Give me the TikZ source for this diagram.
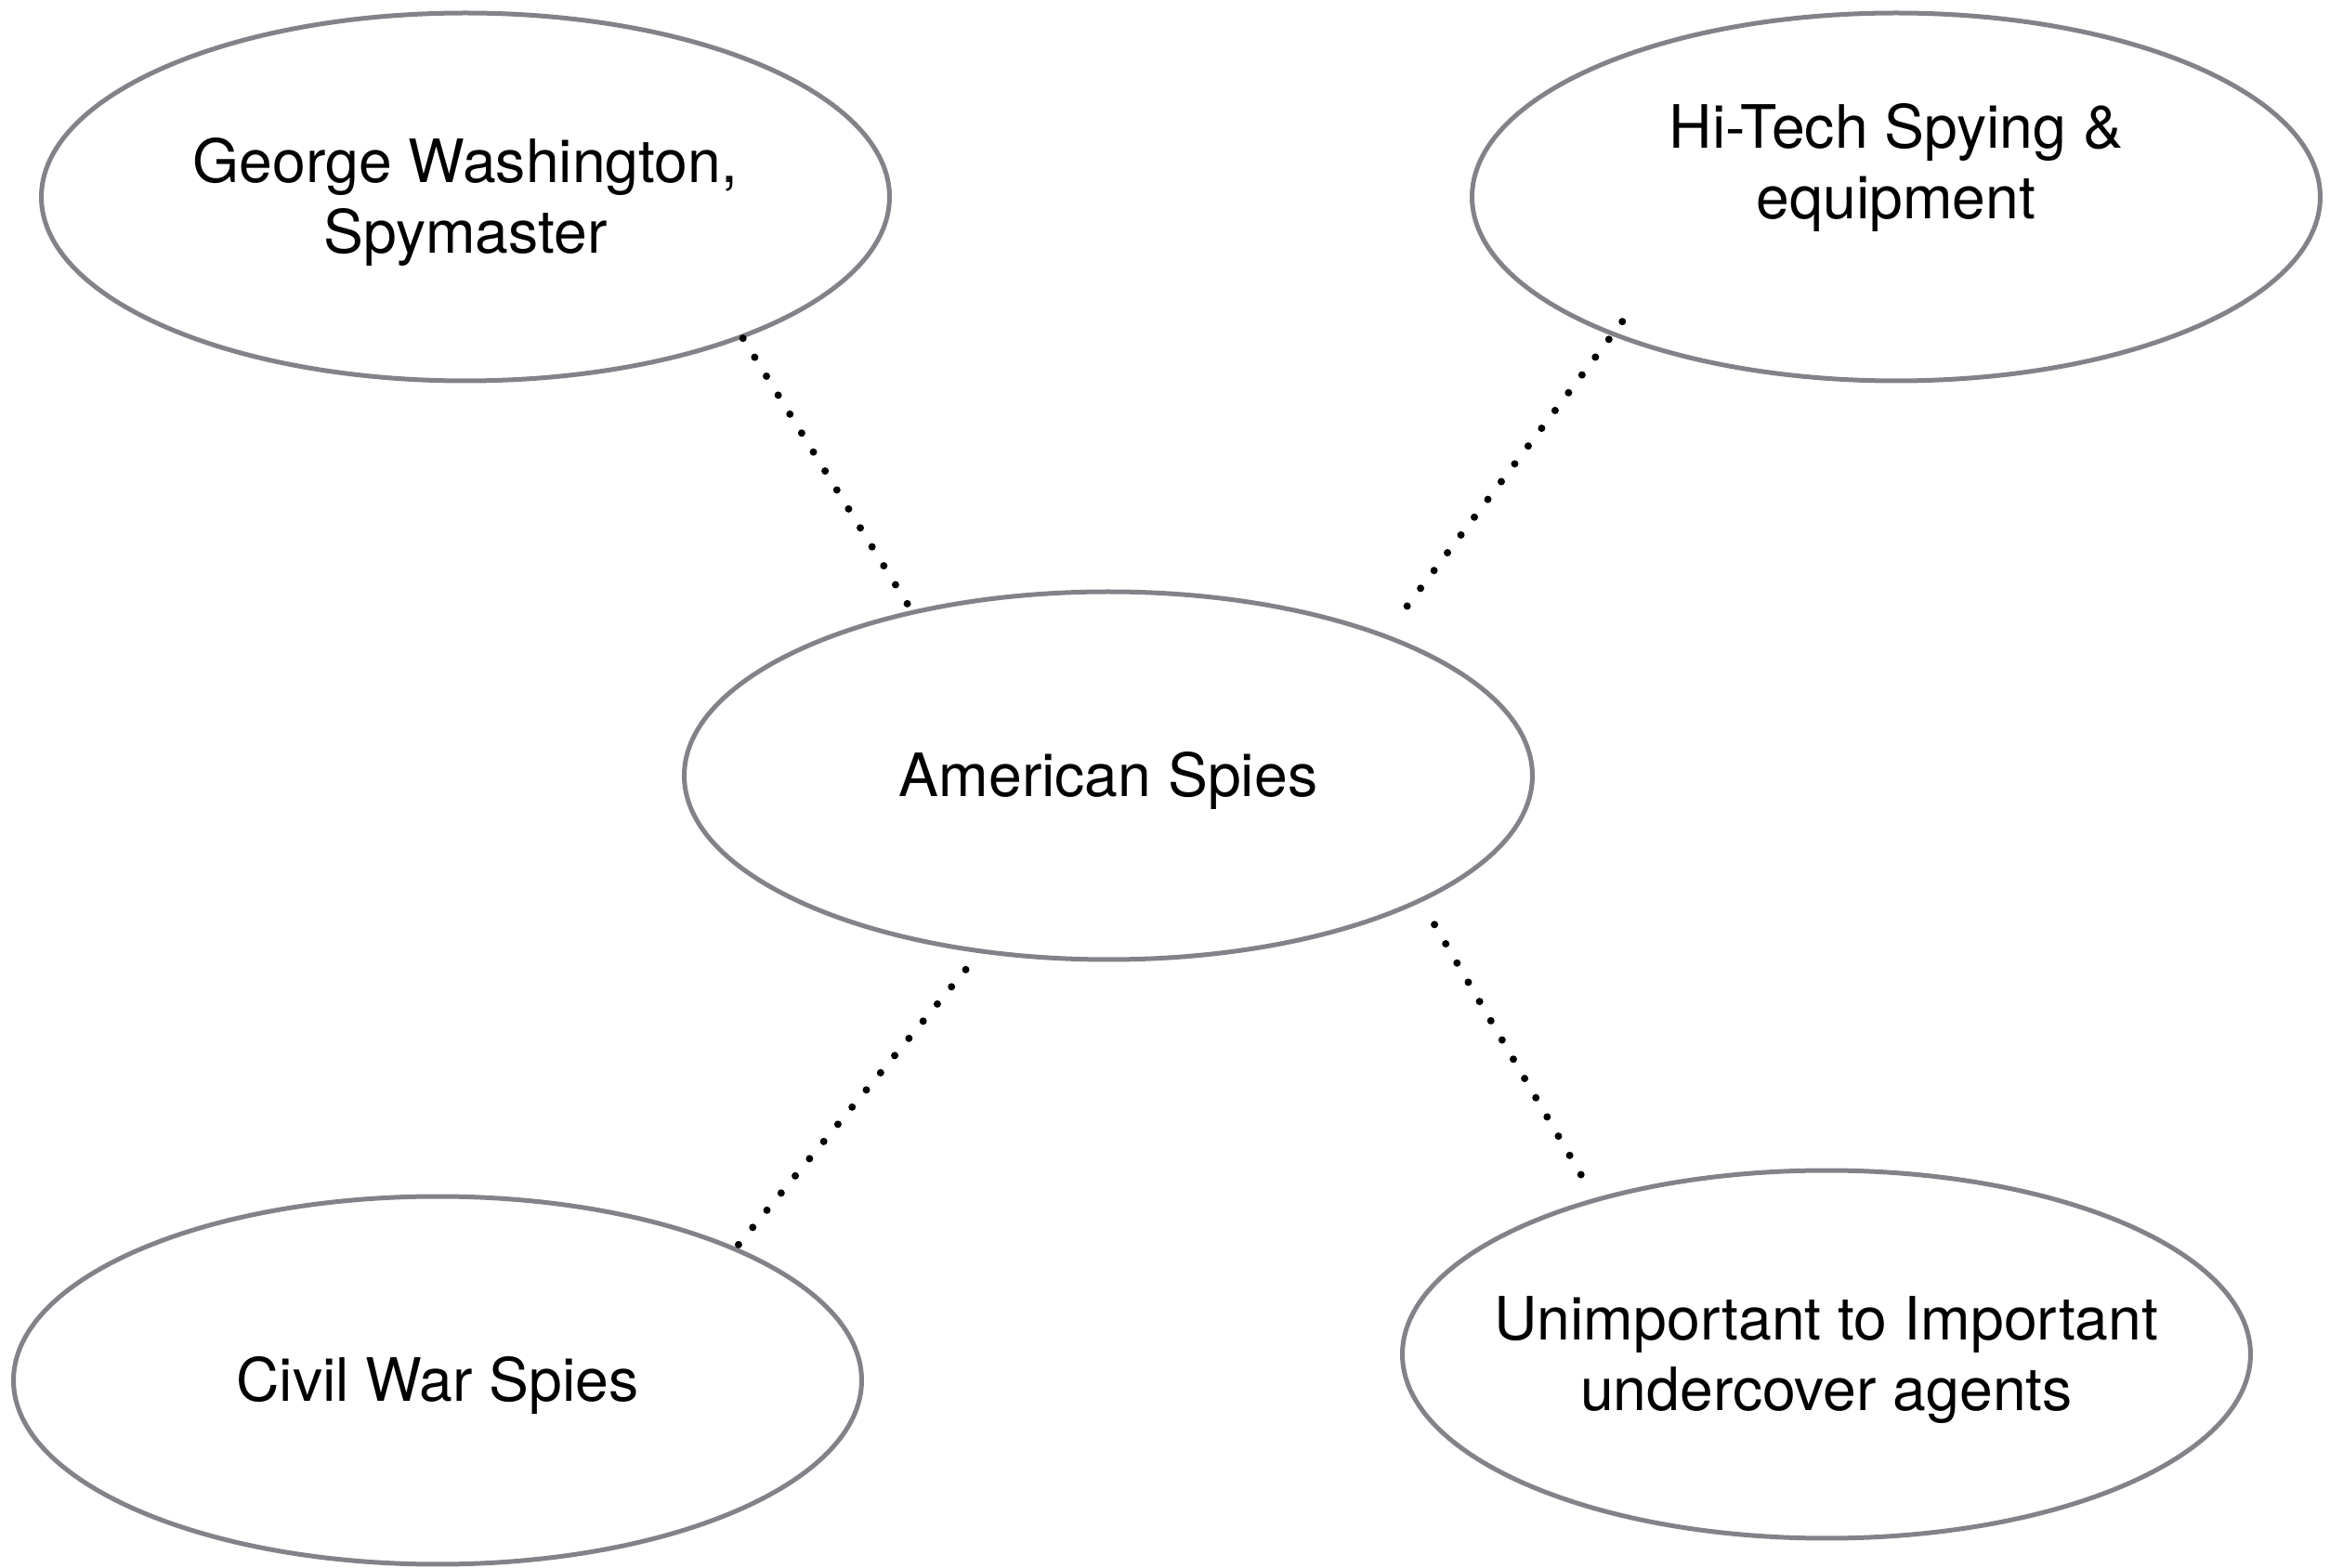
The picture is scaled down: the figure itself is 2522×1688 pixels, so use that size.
\documentclass[tikz,border=0pt]{standalone}
\usepackage{fontspec}
\setmainfont{TeX Gyre Heros}
\usetikzlibrary{shapes.geometric}
\definecolor{ringgray}{RGB}{130,131,136}
\newcommand\onelinetxt[1]{\makebox[0pt]{\raisebox{-2.25mm}[0pt][0pt]{#1}}}
\newcommand\twolinetxt[3]{\makebox[0pt]{\raisebox{#1}[0pt][0pt]{\begin{tabular}[t]{@{}c@{}}#2\\#3\end{tabular}}}}
\begin{document}
\begin{tikzpicture}[x=0.1mm,y=-0.1mm,
  topic/.style={ellipse, draw=ringgray, line width=0.5mm, minimum width=91.3mm,
    minimum height=39.6mm, inner sep=0pt,
    font=\fontsize{18.3pt}{21.6pt}\selectfont},
  link/.style={line width=0.8mm, line cap=round, dash pattern=on 0pt off 2.4mm}]
\useasboundingbox (0,0) rectangle (2522,1688);
\node[topic] (george) at (501,212) {\twolinetxt{1.55mm}{George Washington,}{Spymaster}};
\node[topic] (hitech) at (2041,212) {\twolinetxt{5.2mm}{Hi-Tech Spying \&}{equipment}};
\node[topic] (amer) at (1193,835) {\onelinetxt{American Spies}};
\node[topic] (civil) at (471,1486) {\onelinetxt{Civil War Spies}};
\node[topic] (unimp) at (1966,1458) {\twolinetxt{1.55mm}{Unimportant to Important}{undercover agents}};
\draw[link] (george.-27) -- (amer.140);
\draw[link, shorten <=-1.9mm, shorten >=3.0mm] (hitech.206) -- (amer.27);
\draw[link, shorten <=2.3mm, shorten >=-1mm] (amer.-126) -- (civil.24);
\draw[link, shorten <=2.8mm, shorten >=0.8mm] (amer.-22) -- (unimp.146.5);
\end{tikzpicture}
\end{document}
